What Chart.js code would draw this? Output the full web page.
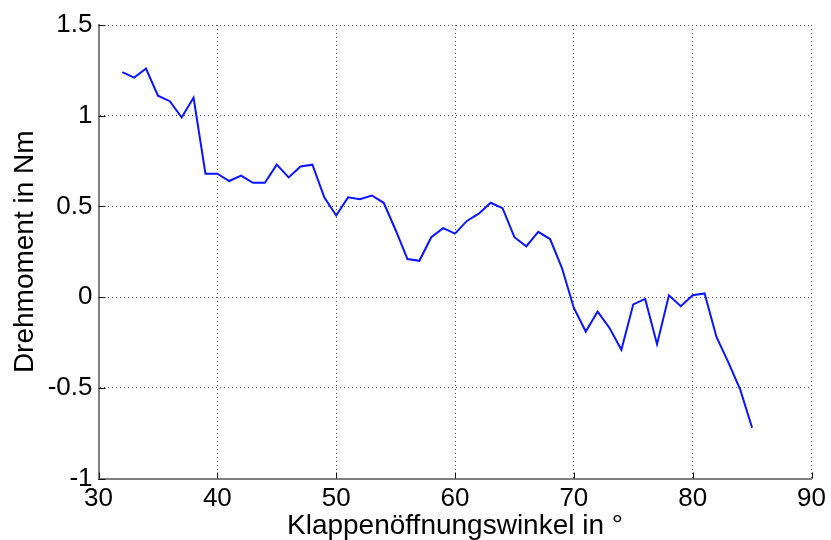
<!DOCTYPE html>
<html>
<head>
<meta charset="utf-8">
<script src="https://cdn.jsdelivr.net/npm/chart.js@4"></script>
<style>
    body { margin: 0; background: #fff; }
    #wrap { width: 831px; height: 540px; }
</style>
</head>
<body>
<div id="wrap"><canvas id="torqueChart" width="831" height="540"></canvas></div>
<script>
// Klappenöffnungswinkel (°) und gemessenes Drehmoment (Nm)
const angles = [32, 33, 34, 35, 36, 37, 38, 39, 40, 41, 42, 43, 44, 45, 46, 47, 48, 49,
    50, 51, 52, 53, 54, 55, 56, 57, 58, 59, 60, 61, 62, 63, 64, 65, 66, 67, 68, 69,
    70, 71, 72, 73, 74, 75, 76, 77, 78, 79, 80, 81, 82, 83, 84, 85];
const torque = [1.24, 1.21, 1.26, 1.11, 1.08, 0.99, 1.10, 0.68, 0.68, 0.64, 0.67, 0.63, 0.63, 0.73, 0.66, 0.72, 0.73, 0.55,
    0.45, 0.55, 0.54, 0.56, 0.52, 0.37, 0.21, 0.20, 0.33, 0.38, 0.35, 0.42, 0.46, 0.52, 0.49, 0.33, 0.28, 0.36, 0.32, 0.16,
    -0.06, -0.19, -0.08, -0.17, -0.29, -0.04, -0.01, -0.26, 0.01, -0.05, 0.01, 0.02, -0.22, -0.36, -0.51, -0.72];

const xTicks = [30, 40, 50, 60, 70, 80, 90];
const yTicks = [-1, -0.5, 0, 0.5, 1, 1.5];

const xLabel = 'Klappenöffnungswinkel in °';
const yLabel = 'Drehmoment in Nm';

const points = angles.map((a, i) => ({ x: a, y: torque[i] }));

// short tick marks pointing into the plot, like the matlab axes
const innerTicks = {
    id: 'innerTicks',
    afterDraw(chart) {
        const { ctx, chartArea, scales } = chart;
        ctx.save();
        ctx.strokeStyle = '#111';
        ctx.lineWidth = 1;
        ctx.beginPath();
        xTicks.forEach(v => {
            const px = Math.round(scales.x.getPixelForValue(v)) + 0.5;
            ctx.moveTo(px, chartArea.bottom);
            ctx.lineTo(px, chartArea.bottom - 6);
        });
        yTicks.forEach(v => {
            const py = Math.round(scales.y.getPixelForValue(v)) + 0.5;
            ctx.moveTo(chartArea.left, py);
            ctx.lineTo(chartArea.left + 7, py);
        });
        ctx.stroke();
        ctx.restore();
    }
};

const tickFont = { family: "'Liberation Sans', Arial, sans-serif", size: 26 };
const titleFont = { family: "'Liberation Sans', Arial, sans-serif", size: 28, lineHeight: 1 };

new Chart(document.getElementById('torqueChart'), {
    type: 'line',
    data: {
        datasets: [{
            data: points,
            borderColor: '#0a14ff',
            borderWidth: 2,
            pointRadius: 0,
            tension: 0,
            fill: false
        }]
    },
    options: {
        responsive: false,
        animation: false,
        layout: { padding: { left: 0, right: 17, top: 25, bottom: 0 } },
        plugins: {
            legend: { display: false },
            tooltip: { enabled: false }
        },
        scales: {
            x: {
                type: 'linear',
                min: 30,
                max: 90,
                afterBuildTicks: s => { s.ticks = xTicks.map(v => ({ value: v })); },
                afterFit: s => { s.height = 61.5; },
                ticks: { color: '#000', font: tickFont, padding: 5, maxRotation: 0, callback: v => String(v) },
                grid: { color: '#555', lineWidth: 1, drawTicks: false },
                border: { display: true, color: '#808080', width: 2, dash: [1, 3] },
                title: { display: true, text: xLabel, color: '#000', font: titleFont, padding: { top: 0, bottom: 0 } }
            },
            y: {
                min: -1,
                max: 1.5,
                afterBuildTicks: s => { s.ticks = yTicks.map(v => ({ value: v })); },
                afterFit: s => { s.width = 98.5; },
                ticks: { color: '#000', font: tickFont, padding: 6, callback: v => String(v) },
                grid: { color: '#555', lineWidth: 1, drawTicks: false },
                border: { display: true, color: '#808080', width: 2, dash: [1, 3] },
                title: { display: true, text: yLabel, color: '#000', font: titleFont, padding: { top: 11, bottom: 0 } }
            }
        }
    },
    plugins: [innerTicks]
});
</script>
</body>
</html>
